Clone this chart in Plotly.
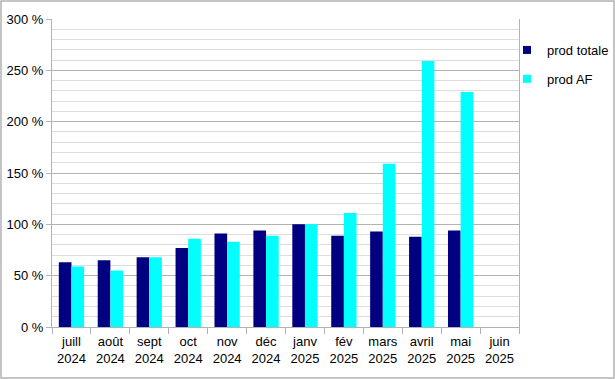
import plotly.graph_objects as go

months = ["juill<br>2024", "août<br>2024", "sept<br>2024", "oct<br>2024", "nov<br>2024", "déc<br>2024",
          "janv<br>2025", "fév<br>2025", "mars<br>2025", "avril<br>2025", "mai<br>2025", "juin<br>2025"]
prod_totale = [63, 65, 68, 77, 91, 94, 100, 89, 93, 88, 94, None]
prod_af = [59, 55, 68, 86, 83, 89, 100, 111, 159, 259, 229, None]
y_ticks = [0, 50, 100, 150, 200, 250, 300]

NAVY = "#000080"
CYAN = "#00ffff"
FONT = "Liberation Sans, Arial, sans-serif"
FS = 13

fig = go.Figure()
fig.add_trace(go.Bar(x=months, y=prod_totale, name="prod totale", marker_color=NAVY,
                     marker_line=dict(width=0), showlegend=False))
fig.add_trace(go.Bar(x=months, y=prod_af, name="prod AF", marker_color=CYAN,
                     marker_line=dict(width=0), showlegend=False))
# legend entries
fig.add_trace(go.Scatter(x=[None], y=[None], mode="markers", name="prod totale", legendgroup="a",
                         marker=dict(symbol="square", size=8, color=NAVY)))
fig.add_trace(go.Scatter(x=[None], y=[None], mode="markers", name="prod AF", legendgroup="b",
                         marker=dict(symbol="square", size=8, color=CYAN)))

fig.update_layout(
    width=615, height=379,
    margin=dict(l=52, r=96, t=19, b=52, autoexpand=False),
    paper_bgcolor="white", plot_bgcolor="white",
    font=dict(family=FONT, size=FS, color="#000000"),
    barmode="group", bargap=0.35, bargroupgap=0,
    showlegend=True,
    legend=dict(x=(507 - 52) / 467, xanchor="left", y=(327 - 35) / 308, yanchor="top",
                tracegroupgap=9, font=dict(size=FS), itemwidth=30, bgcolor="rgba(0,0,0,0)"),
    xaxis=dict(type="category", tickson="boundaries", ticks="outside", ticklen=6,
               tickcolor="#b3b3b3", showline=True, linecolor="#b3b3b3", linewidth=1,
               showgrid=False, tickfont=dict(size=FS), tickangle=0, automargin=False,
               ticklabelstandoff=2, range=[-0.5, 11.5]),
    yaxis=dict(range=[0, 300], tickvals=y_ticks, ticktext=[f"{v} %" for v in y_ticks],
               ticks="outside", ticklen=5, tickcolor="#b3b3b3", automargin=False,
               showline=True, linecolor="#b3b3b3", linewidth=1, mirror=True,
               showgrid=True, gridcolor="#b3b3b3", gridwidth=1, zeroline=False,
               minor=dict(dtick=10, showgrid=True, gridcolor="#dddddd", gridwidth=1, ticks=""),
               tickfont=dict(size=FS)),
)

# outer border of the image
fig.add_shape(type="rect", xref="paper", yref="paper",
              x0=(1 - 52) / 467, x1=(614 - 52) / 467,
              y0=(327 - 378) / 308, y1=(327 - 1) / 308,
              line=dict(color="#b3b3b3", width=1.5), fillcolor="rgba(0,0,0,0)", layer="above")

fig.write_html("out.html", config={"displayModeBar": False, "staticPlot": True})

# remove the default page margin so the figure sits at the window's top-left corner
with open("out.html", encoding="utf-8") as f:
    html = f.read()
html = html.replace("<head>", "<head><style>html,body{margin:0;padding:0;overflow:hidden;}</style>", 1)
with open("out.html", "w", encoding="utf-8") as f:
    f.write(html)
